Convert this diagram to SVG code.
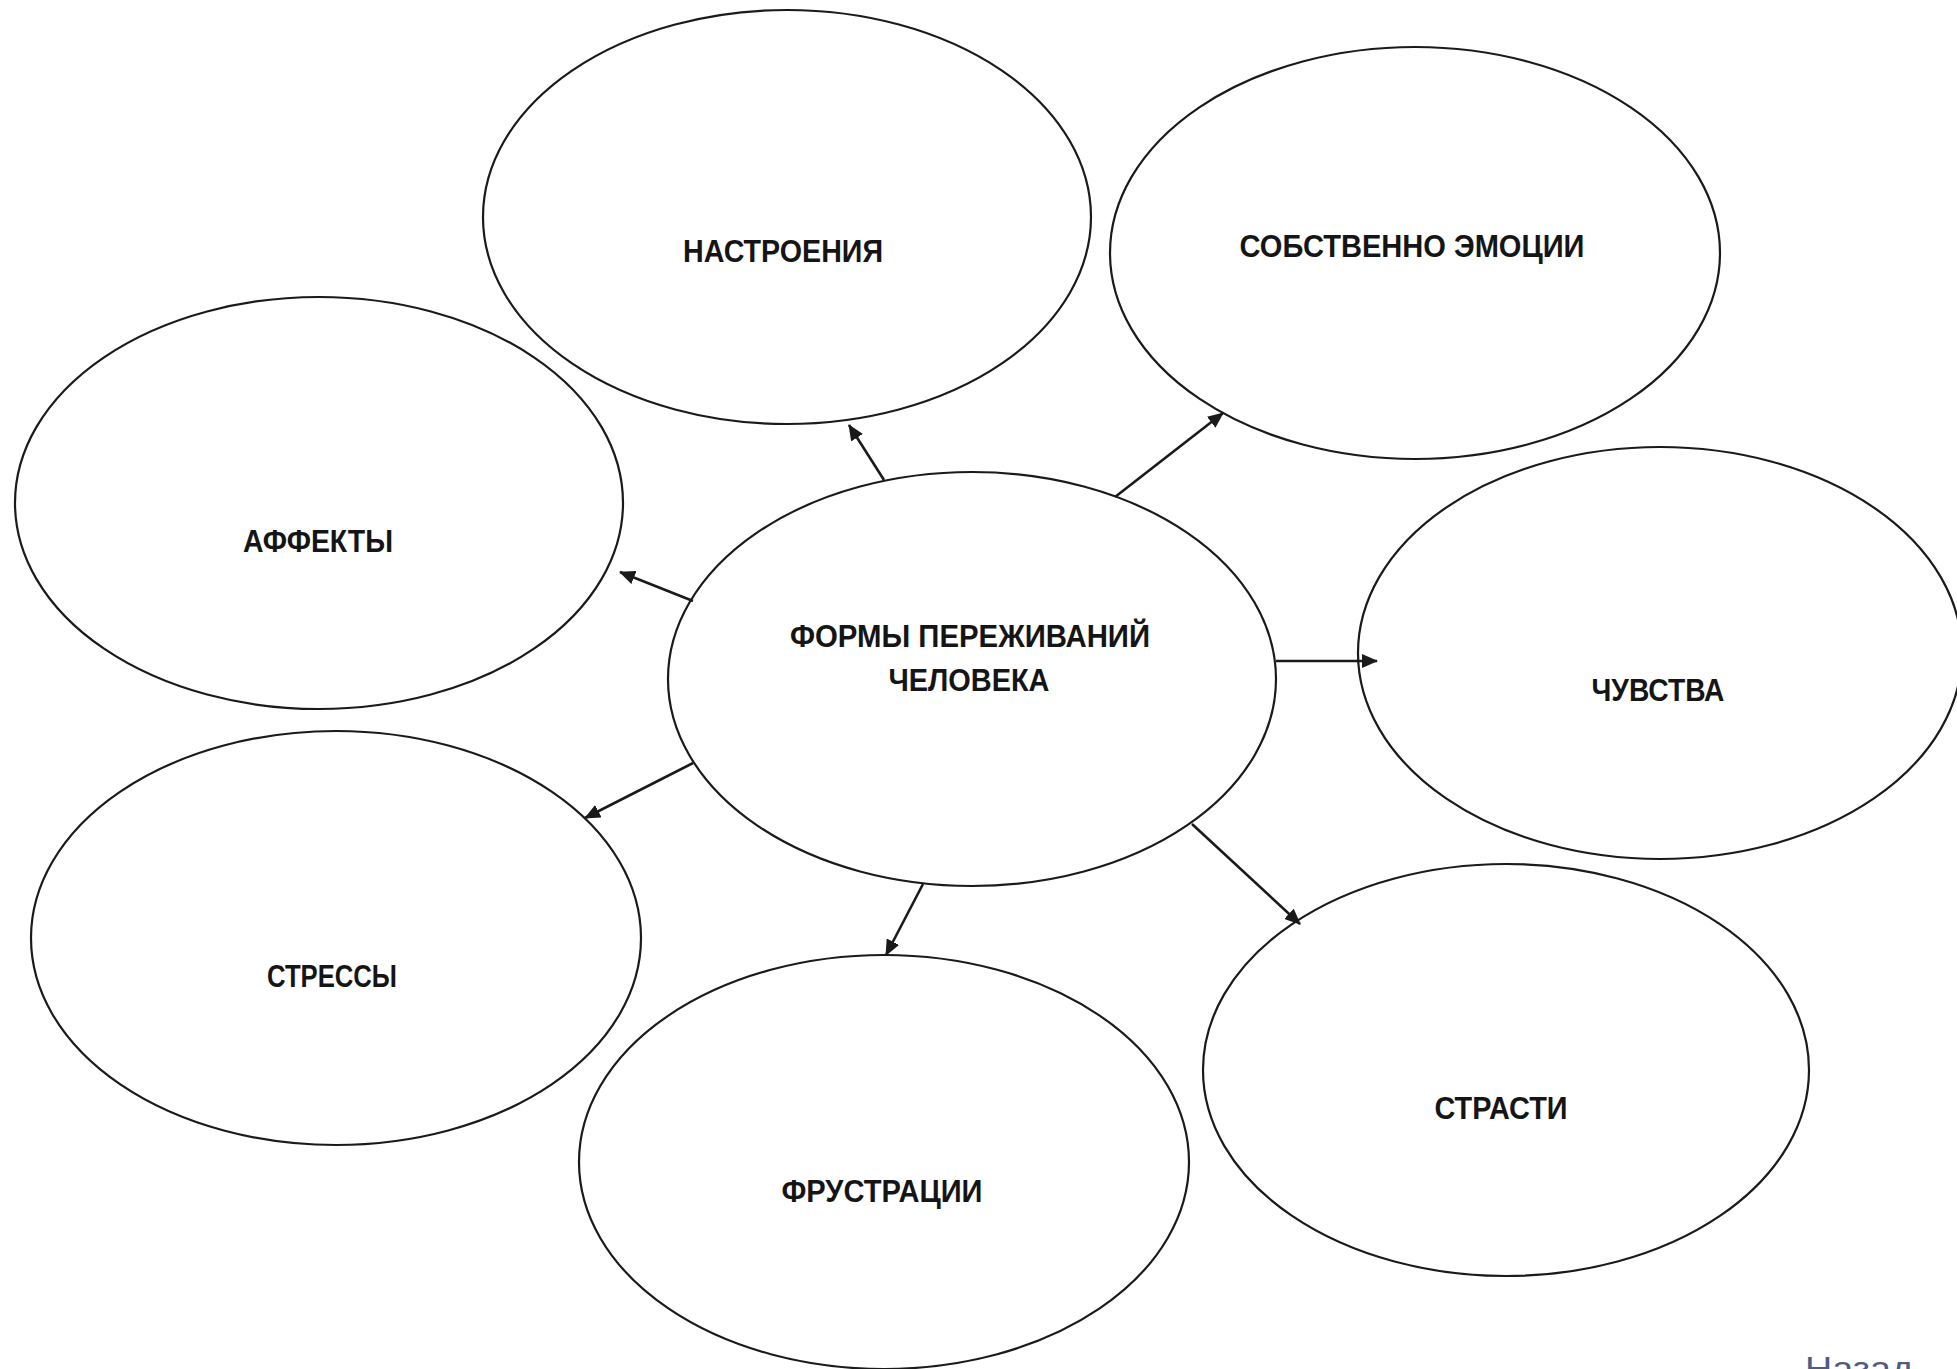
<svg xmlns="http://www.w3.org/2000/svg" width="1957" height="1369" viewBox="0 0 1957 1369">
  <style>
    .node ellipse { fill: #ffffff; stroke: #1a1a1a; stroke-width: 2.2; }
    .lbl { font-family: "Liberation Sans", Arial, sans-serif; font-weight: 700; font-size: 31px; fill: #151515; text-anchor: middle; }
    .conn line { stroke: #1a1a1a; stroke-width: 2.6; marker-end: url(#arrow); }
    .nav { font-family: "Liberation Sans", Arial, sans-serif; font-size: 34px; fill: #4f5b82; }
  </style>
  <defs>
    <marker id="arrow" markerUnits="userSpaceOnUse" markerWidth="16" markerHeight="14" refX="15" refY="7" orient="auto">
      <path d="M0,0 L16,7 L0,14 z" fill="#1a1a1a"/>
    </marker>
  </defs>
  <rect width="1957" height="1369" fill="#ffffff"/>

  <g id="node-nastroeniya" class="node">
    <ellipse cx="787" cy="217" rx="304" ry="207"/>
    <text class="lbl" x="783" y="262" textLength="200" lengthAdjust="spacingAndGlyphs">НАСТРОЕНИЯ</text>
  </g>
  <g id="node-sobstvenno-emocii" class="node">
    <ellipse cx="1415" cy="253" rx="305" ry="206"/>
    <text class="lbl" x="1412" y="257" textLength="345" lengthAdjust="spacingAndGlyphs">СОБСТВЕННО ЭМОЦИИ</text>
  </g>
  <g id="node-affekty" class="node">
    <ellipse cx="319" cy="503" rx="304" ry="206"/>
    <text class="lbl" x="318" y="552" textLength="150" lengthAdjust="spacingAndGlyphs">АФФЕКТЫ</text>
  </g>
  <g id="node-chuvstva" class="node">
    <ellipse cx="1660" cy="653" rx="302" ry="206"/>
    <text class="lbl" x="1658" y="701" textLength="133" lengthAdjust="spacingAndGlyphs">ЧУВСТВА</text>
  </g>
  <g id="node-stressy" class="node">
    <ellipse cx="336" cy="938" rx="305" ry="207"/>
    <text class="lbl" x="332" y="987" textLength="130" lengthAdjust="spacingAndGlyphs">СТРЕССЫ</text>
  </g>
  <g id="node-frustracii" class="node">
    <ellipse cx="884" cy="1162" rx="305" ry="207"/>
    <text class="lbl" x="882" y="1202" textLength="201" lengthAdjust="spacingAndGlyphs">ФРУСТРАЦИИ</text>
  </g>
  <g id="node-strasti" class="node">
    <ellipse cx="1506" cy="1070" rx="303" ry="206"/>
    <text class="lbl" x="1501" y="1119" textLength="133" lengthAdjust="spacingAndGlyphs">СТРАСТИ</text>
  </g>
  <g id="node-center" class="node">
    <ellipse cx="972" cy="679" rx="304" ry="207"/>
    <text class="lbl" x="970" y="647" textLength="360" lengthAdjust="spacingAndGlyphs">ФОРМЫ ПЕРЕЖИВАНИЙ</text>
    <text class="lbl" x="969" y="691" textLength="161" lengthAdjust="spacingAndGlyphs">ЧЕЛОВЕКА</text>
  </g>

  <g id="connectors" class="conn">
    <line x1="884" y1="480" x2="849" y2="425"/>
    <line x1="1115" y1="497" x2="1223" y2="413"/>
    <line x1="693" y1="601" x2="620" y2="572"/>
    <line x1="1276" y1="661" x2="1377" y2="661"/>
    <line x1="693" y1="763" x2="585" y2="818"/>
    <line x1="923" y1="884" x2="886" y2="955"/>
    <line x1="1192" y1="824" x2="1300" y2="924"/>
  </g>

  <g id="nav-back">
    <text class="nav" x="1805" y="1380" textLength="108" lengthAdjust="spacingAndGlyphs">Назад</text>
  </g>
</svg>
